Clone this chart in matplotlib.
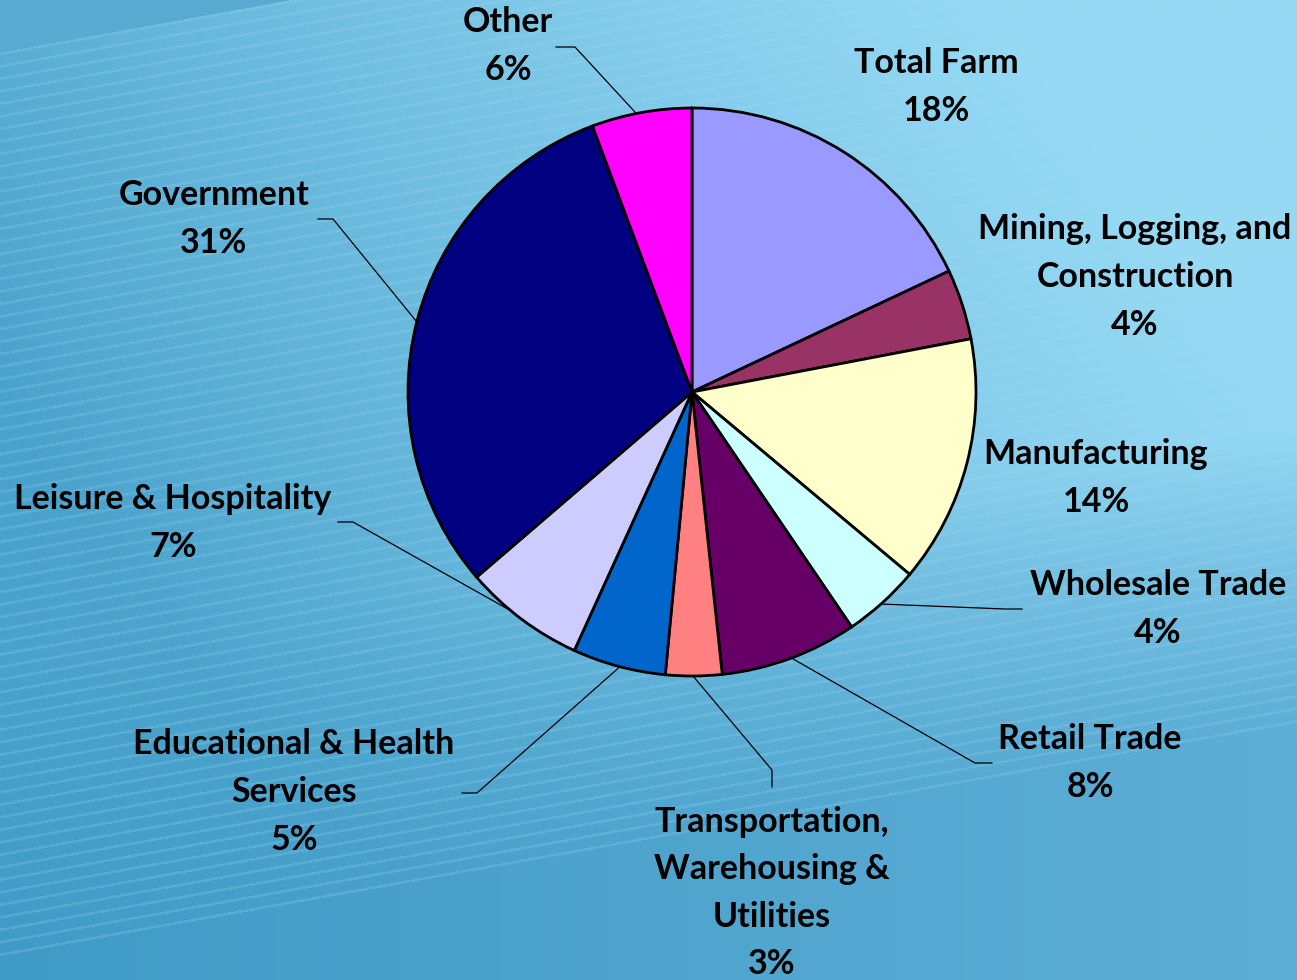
import numpy as np
import matplotlib
matplotlib.use("Agg")
import matplotlib.pyplot as plt
from matplotlib.colors import LinearSegmentedColormap

# sector shares (percent), clockwise from 12 o'clock
sectors = [
    "Total Farm",
    "Mining, Logging, and\nConstruction",
    "Manufacturing",
    "Wholesale Trade",
    "Retail Trade",
    "Transportation,\nWarehousing &\nUtilities",
    "Educational & Health\nServices",
    "Leisure & Hospitality",
    "Government",
    "Other",
]
shares = [18.0, 4.0, 14.1, 4.4, 7.8, 3.2, 5.3, 6.9, 30.6, 5.7]
labels_pct = ["18%", "4%", "14%", "4%", "8%", "3%", "5%", "7%", "31%", "6%"]
colors = ["#9999FF", "#993366", "#FFFFCC", "#CCFFFF", "#660066",
          "#FF8080", "#0066CC", "#CCCCFF", "#000080", "#FF00FF"]

W, H = 1297, 980
cx, cy, r = 692, H - 392, 284

# label centre positions (pixel coords, y from top)
label_pos = [(936, 87), (1135, 277), (1096, 478), (1158, 609), (1090, 763),
             (772, 893), (294, 792), (173, 523), (214, 219), (508, 46)]
# leader: angle on rim (deg), elbow point, end point (pixel coords, y from top)
leaders = {
    3: (-48.3, (1005, 609), (1022, 609)),
    4: (-69.5, (975, 763), (992, 763)),
    5: (-89.8, (772, 770), (772, 787)),
    6: (-104.7, (477, 793), (462, 793)),
    7: (-129.6, (353, 522), (338, 522)),
    8: (165.7, (333, 219), (318, 219)),
    9: (101.3, (575, 47), (556, 47)),
}

fig = plt.figure(figsize=(W / 100, H / 100), dpi=100)
ax = fig.add_axes([0, 0, 1, 1])

# background: blue with a diagonal band of faint light stripes
yy, xx = np.mgrid[0:H, 0:W].astype(float)
s = yy + 0.18 * xx
band_top, band_bot = 53, 958
low_cmap = LinearSegmentedColormap.from_list("low", ["#3f9bc6", "#5eaed6"])
low = low_cmap(xx / W)[..., :3]
light = np.array([0x95, 0xd9, 0xf4]) / 255
u = np.clip((band_bot - s) / (band_bot - band_top), 0, 1)
w = np.clip(0.9 * xx / W + 0.5 * (1 - yy / H) - 0.3, 0, 1)
w = np.clip(w + 0.12, 0, 1) * np.clip(u * 3, 0, 1)
rgb = low * (1 - w[..., None]) + light * w[..., None]
above = s <= band_top
rgb[above] = np.array([0x5a, 0xaa, 0xd2]) / 255
inside = (s > band_top) & (s < band_bot)
stripe = ((s - band_top) % 12.5 < 2.6) & inside
rgb[stripe] = rgb[stripe] * 0.78 + np.array([0.62, 0.85, 0.97]) * 0.22
ax.imshow(rgb, extent=(0, W, 0, H), origin="upper", zorder=0)

wedges, _ = ax.pie(shares, colors=colors, startangle=90, counterclock=False,
                   center=(cx, cy), radius=r, frame=True,
                   wedgeprops=dict(edgecolor="black", linewidth=2))
for wd in wedges:
    wd.set_zorder(2)
ax.set_xlim(0, W)
ax.set_ylim(0, H)
ax.set_aspect("equal")
ax.axis("off")

for i, (name, pct) in enumerate(zip(sectors, labels_pct)):
    x, y = label_pos[i]
    ax.text(x, H - y, name + "\n" + pct, ha="center", va="center",
            fontsize=24.5, fontweight="bold", family=["Lato", "DejaVu Sans"],
            linespacing=1.6, color="black", zorder=4)

for i, (ang, elbow, end) in leaders.items():
    a = np.deg2rad(ang)
    sx, sy = cx + r * np.cos(a), cy + r * np.sin(a)
    ax.plot([sx, elbow[0], end[0]], [sy, H - elbow[1], H - end[1]],
            color="black", linewidth=0.9, zorder=3)

fig.savefig("out.png", dpi=100)
